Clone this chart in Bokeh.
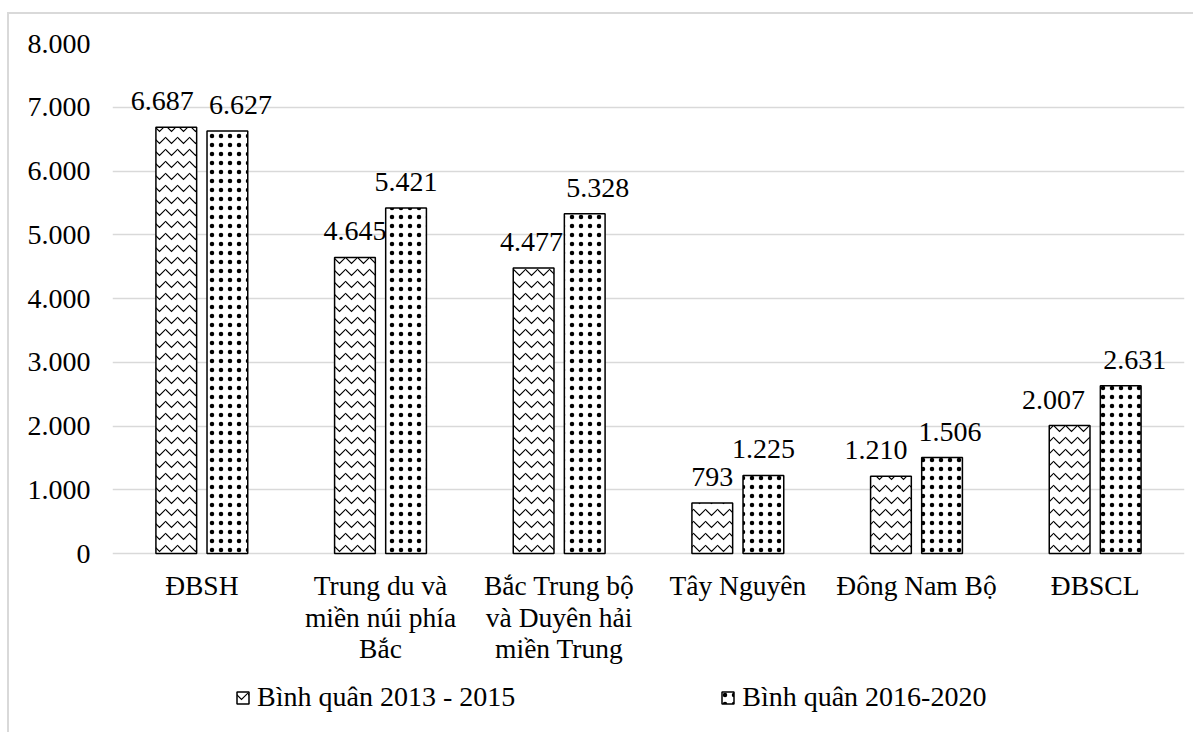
from bokeh.plotting import figure
from bokeh.models import (ColumnDataSource, Range1d, LabelSet, Legend, LegendItem,
                          FactorRange)
from bokeh.core.properties import value
from bokeh.transform import dodge
from bokeh.embed import file_html
from bokeh.resources import INLINE

categories = ["ĐBSH", "Trung du và\nmiền núi phía\nBắc", "Bắc Trung bộ\nvà Duyên hải\nmiền Trung",
              "Tây Nguyên", "Đông Nam Bộ", "ĐBSCL"]
series_names = ["Bình quân 2013 - 2015", "Bình quân 2016-2020"]
values_2013_2015 = [6687, 4645, 4477, 793, 1210, 2007]
values_2016_2020 = [6627, 5421, 5328, 1225, 1506, 2631]
y_ticks = [0, 1000, 2000, 3000, 4000, 5000, 6000, 7000, 8000]

# label nudges (px) to avoid overlapping data labels, as in the original
nudge_a = [-14, 0, -2, 0, -15, -16]
nudge_b = [13, 0, 13, 0, 8, 14]


def fmt(v):
    return f"{v:,}".replace(",", ".")


lines = [c.split("\n") for c in categories]
src = ColumnDataSource(dict(
    cat=categories,
    a=values_2013_2015,
    b=values_2016_2020,
    la=[fmt(v) for v in values_2013_2015],
    lb=[fmt(v) for v in values_2016_2020],
    dxa=nudge_a,
    dxb=nudge_b,
    zero=[0] * len(categories),
    l0=[l[0] if len(l) > 0 else "" for l in lines],
    l1=[l[1] if len(l) > 1 else "" for l in lines],
    l2=[l[2] if len(l) > 2 else "" for l in lines],
))

FONT = "Liberation Serif"
GRID = "#d9d9d9"

p = figure(x_range=FactorRange(*categories, range_padding=0), y_range=Range1d(-2839, 8000),
           width=1186, height=720, output_backend="svg", toolbar_location=None,
           min_border_left=103, min_border_right=11, min_border_top=29, min_border_bottom=0)
p.outline_line_color = None
p.background_fill_color = "white"
p.border_fill_color = "white"
p.styles = {"margin-left": "7px", "margin-top": "12px",
            "border-top": "2px solid #d9d9d9", "border-left": "2px solid #d9d9d9"}

off = 0.143
w = 0.228
r1 = p.vbar(x=dodge("cat", -off, range=p.x_range), top="a", width=w, source=src,
            fill_color="white", line_color="black", line_width=1.5,
            hatch_pattern="horizontal_wave", hatch_color="black", hatch_scale=12, hatch_weight=1.2)
r2 = p.vbar(x=dodge("cat", off, range=p.x_range), top="b", width=w, source=src,
            fill_color="white", line_color="black", line_width=1.5,
            hatch_pattern="dot", hatch_color="black", hatch_scale=9, hatch_weight=1)

for xoff, fld in [(-off, "a"), (off, "b")]:
    lab = LabelSet(x=dodge("cat", xoff, range=p.x_range), y=fld, text="l" + fld, source=src,
                   x_offset="dx" + fld,
                   text_align="center", text_baseline="alphabetic", y_offset=17,
                   text_font=value(FONT), text_font_size=value("28px"), text_color="black")
    p.add_layout(lab)

# category labels (three lines) drawn below the zero line
for i, fld in enumerate(["l0", "l1", "l2"]):
    lab = LabelSet(x="cat", y="zero", text=fld, source=src, y_offset=-(32 + 31.5 * i),
                   text_align="center", text_baseline="middle",
                   text_font=value(FONT), text_font_size=value("27.5px"), text_color="black")
    p.add_layout(lab)

p.xgrid.grid_line_color = None
p.ygrid.grid_line_color = GRID
p.ygrid.grid_line_width = 1.5
p.ygrid.ticker = y_ticks
p.yaxis.ticker = y_ticks
p.yaxis.major_label_overrides = {t: fmt(t) for t in y_ticks}
p.yaxis.axis_line_color = None
p.yaxis.major_tick_line_color = None
p.yaxis.minor_tick_line_color = None
p.yaxis.major_label_standoff = 16
p.yaxis.major_label_text_font = FONT
p.yaxis.major_label_text_font_size = "28px"
p.yaxis.major_label_text_color = "black"

p.xaxis.visible = False

legend = Legend(items=[LegendItem(label=series_names[0], renderers=[r1]),
                       LegendItem(label=series_names[1], renderers=[r2])],
                orientation="horizontal", location=(123, 21),
                padding=0, margin=0, spacing=205, border_line_color=None,
                background_fill_alpha=0, glyph_width=15, glyph_height=15, label_standoff=7,
                label_text_font=FONT, label_text_font_size="28px", label_text_color="black")
p.add_layout(legend, "center")

open("out.html", "w").write(file_html(p, INLINE))
